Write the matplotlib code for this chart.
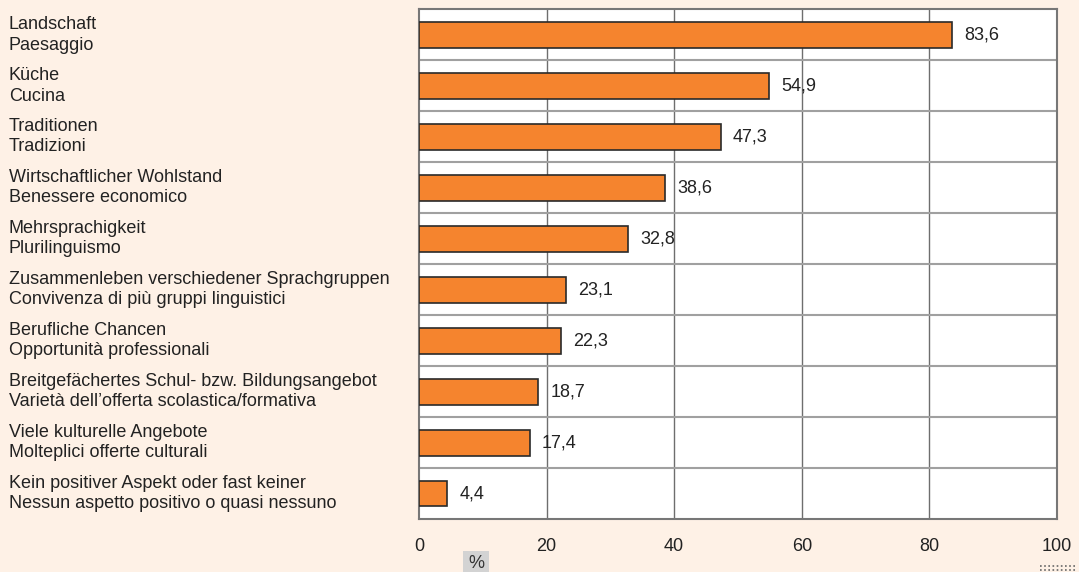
import numpy as np
import matplotlib.pyplot as plt
from matplotlib.transforms import blended_transform_factory

plt.rcParams['font.family'] = ['Liberation Sans', 'DejaVu Sans']

labels = [
    "Landschaft\nPaesaggio",
    "Küche\nCucina",
    "Traditionen\nTradizioni",
    "Wirtschaftlicher Wohlstand\nBenessere economico",
    "Mehrsprachigkeit\nPlurilinguismo",
    "Zusammenleben verschiedener Sprachgruppen\nConvivenza di più gruppi linguistici",
    "Berufliche Chancen\nOpportunità professionali",
    "Breitgefächertes Schul- bzw. Bildungsangebot\nVarietà dell’offerta scolastica/formativa",
    "Viele kulturelle Angebote\nMolteplici offerte culturali",
    "Kein positiver Aspekt oder fast keiner\nNessun aspetto positivo o quasi nessuno",
]
values = [83.6, 54.9, 47.3, 38.6, 32.8, 23.1, 22.3, 18.7, 17.4, 4.4]
xticks = [0, 20, 40, 60, 80, 100]

bg = '#fef1e6'
orange = '#f5842e'
fs = 13

fig = plt.figure(figsize=(10.79, 5.72), dpi=100, facecolor=bg)
ax = fig.add_axes([0.3883, 0.0927, 0.5913, 0.8907])
ax.set_facecolor('white')

n = len(values)
y = np.arange(n)
ax.barh(y, values, height=0.51, color=orange, edgecolor='#2a2a2a', linewidth=1.2, zorder=3)

ax.set_xlim(0, 100)
ax.set_ylim(n - 0.5, -0.5)

# grid: vertical at ticks, horizontal between categories
for xv in xticks[1:-1]:
    ax.axvline(xv, color='#6e6e6e', lw=1.0, zorder=1)
for yv in np.arange(0.5, n - 0.5, 1):
    ax.axhline(yv, color='#a0a0a0', lw=1.5, zorder=1)

for s in ax.spines.values():
    s.set_color('#777777')
    s.set_linewidth(1.5)

ax.set_xticks(xticks)
ax.set_xticklabels([str(t) for t in xticks], fontsize=fs, color='#222222')
ax.tick_params(axis='x', length=0, pad=14)
ax.set_yticks([])

for yi, v in zip(y, values):
    ax.text(v + 1.9, yi, f"{v:.1f}".replace('.', ','), va='center', ha='left',
            fontsize=fs, color='#222222', zorder=4)

trans = blended_transform_factory(fig.transFigure, ax.transData)
for yi, lab in zip(y, labels):
    ax.text(9 / 1079, yi, lab, transform=trans, ha='left', va='center',
            fontsize=fs, color='#222222', linespacing=1.25, clip_on=False)

fig.text(476 / 1079, 1 - 564 / 572, '%', ha='center', va='center', fontsize=fs,
         color='#333333', bbox=dict(boxstyle='square,pad=0.25', fc='#d3d3d3', ec='none'))

# small dotted mark in the corner
for yy in (566, 570):
    fig.add_artist(plt.Line2D([1040 / 1079, 1077 / 1079], [1 - yy / 572] * 2,
                              transform=fig.transFigure, color='#666666', lw=1.2,
                              linestyle=(0, (1, 1.5))))

plt.savefig('out.png', dpi=100, facecolor=bg)
